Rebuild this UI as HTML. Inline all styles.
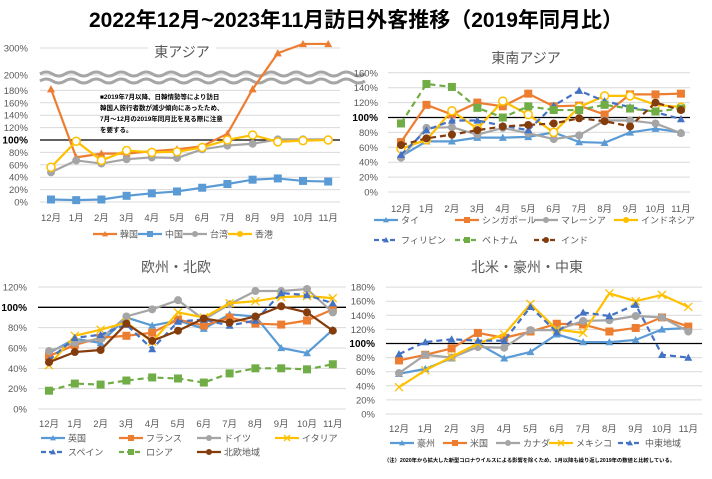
<!DOCTYPE html>
<html><head><meta charset="utf-8">
<style>
body{margin:0;background:#fff;width:712px;height:474px;overflow:hidden;font-family:"Liberation Sans","Noto Sans CJK JP",sans-serif}
svg text{font-family:"Liberation Sans","Noto Sans CJK JP",sans-serif}
</style></head><body>
<svg id="s" width="712" height="474" xmlns="http://www.w3.org/2000/svg">
<text x="356" y="27" text-anchor="middle" font-size="21" font-weight="bold" fill="#000">2022年12月~2023年11月訪日外客推移（2019年同月比）</text>
</svg>
<script>
const S=document.getElementById('s');let h='';
const C={o:'#ED7D31',b:'#5B9BD5',g:'#A5A5A5',y:'#FFC000',db:'#4472C4',gr:'#70AD47',br:'#843C0C'};
const M=['12月','1月','2月','3月','4月','5月','6月','7月','8月','9月','10月','11月'];
function mk(t,x,y,c,s){s=s||4;
 if(t=='tri')return `<polygon points="${x},${y-s} ${x-s},${y+s*0.8} ${x+s},${y+s*0.8}" fill="${c}"/>`;
 if(t=='sq')return `<rect x="${x-s}" y="${y-s}" width="${2*s}" height="${2*s}" fill="${c}"/>`;
 if(t=='ci')return `<circle cx="${x}" cy="${y}" r="${s}" fill="${c}"/>`;
 if(t=='ring')return `<circle cx="${x}" cy="${y}" r="${s}" fill="#fff" stroke="${c}" stroke-width="1.5"/>`;
 if(t=='x')return `<path d="M${x-s},${y-s}L${x+s},${y+s}M${x-s},${y+s}L${x+s},${y-s}" stroke="${c}" stroke-width="1.3"/>`;
 return '';}
function series(xs,step,fy,d,c,m,dash,w){let p=d.map((v,i)=>[xs+i*step,fy(v)]);
 h+=`<polyline points="${p.map(q=>q.join(',')).join(' ')}" fill="none" stroke="${c}" stroke-width="${w||2.2}" ${dash?'stroke-dasharray="6,4"':''}/>`;
 p.forEach(q=>h+=mk(m,q[0],q[1],c));}
function axis(x0,x1,xs,step,fy,max,ly,labx,title,tx,ty){
 for(let v=0;v<=max;v+=20){let y=fy(v);
  h+=`<line x1="${x0}" x2="${x1}" y1="${y}" y2="${y}" stroke="${v==100?'#000':'#d9d9d9'}" stroke-width="${v==100?1.3:1}"/>`;
  h+=`<text x="${labx}" y="${y+3.5}" text-anchor="end" font-size="${v==100?10:9.5}" ${v==100?'font-weight="bold" fill="#000"':'fill="#595959"'}>${v}%</text>`;}
 M.forEach((m,i)=>h+=`<text x="${xs+i*step}" y="${ly}" text-anchor="middle" font-size="9.5" fill="#595959">${m}</text>`);
 h+=`<text x="${tx}" y="${ty}" text-anchor="middle" font-size="14" fill="#595959">${title}</text>`;}
function leg(x,y,c,m,dash,lab){h+=`<line x1="${x}" x2="${x+24}" y1="${y}" y2="${y}" stroke="${c}" stroke-width="2.2" ${dash?'stroke-dasharray="5,3"':''}/>`+mk(m,x+12,y,c,3)+`<text x="${x+27}" y="${y+3.5}" font-size="9" fill="#595959">${lab}</text>`;}

// Panel 1
let f1=v=>v<=190?202-v*0.62:75-(v-200)*0.27;
for(let v=0;v<=180;v+=20){let y=f1(v);h+=`<line x1="40" x2="340" y1="${y}" y2="${y}" stroke="${v==100?'#000':'#d9d9d9'}" stroke-width="${v==100?1.3:1}"/>`;
 h+=`<text x="28" y="${y+3.5}" text-anchor="end" font-size="${v==100?10:9.5}" ${v==100?'font-weight="bold" fill="#000"':'fill="#595959"'}>${v}%</text>`;}
[[200,75],[300,48]].forEach(a=>{h+=`<line x1="40" x2="340" y1="${a[1]}" y2="${a[1]}" stroke="#d9d9d9"/><text x="28" y="${a[1]+3.5}" text-anchor="end" font-size="9.5" fill="#595959">${a[0]}%</text>`;});
let wv=(y)=>{let d=`M40,${y}`;for(let x=40;x<343;x+=25)d+=` q6.25,-4 12.5,0 q6.25,4 12.5,0`;return d;};
h+=`<path d="${wv(74)}" fill="none" stroke="#a6a6a6" stroke-width="3"/><path d="${wv(81)}" fill="none" stroke="#a6a6a6" stroke-width="3"/>`;
h+=`<rect x="148" y="42" width="68" height="20" fill="#fff"/><text x="182" y="57" text-anchor="middle" font-size="14" fill="#595959">東アジア</text>`;
M.forEach((m,i)=>h+=`<text x="${51+i*25.2}" y="221" text-anchor="middle" font-size="9.5" fill="#595959">${m}</text>`);
h+=`<g font-size="6.5" font-weight="bold" fill="#000"><text x="100" y="99">■2019年7月以降、日韓情勢等により訪日</text><text x="100" y="110">韓国人旅行者数が減少傾向にあったため、</text><text x="100" y="121">7月～12月の2019年同月比を見る際に注意</text><text x="100" y="132">を要する。</text></g>`;
series(51,25.2,f1,[182,72,78,78,82,85,90,110,182,281,315,315],C.o,'tri');
series(51,25.2,f1,[4,3,4,10,14,17,23,29,36,38,34,33],C.b,'sq');
series(51,25.2,f1,[48,67,62,69,72,71,85,91,94,101,101,101],C.g,'ci');
series(51,25.2,f1,[56,98,67,83,80,81,88,100,108,97,99,100],C.y,'ring');
leg(93,234,C.o,'tri',0,'韓国');leg(138,234,C.b,'sq',0,'中国');leg(183,234,C.g,'ci',0,'台湾');leg(228,234,C.y,'ci',0,'香港');

// Panel 2
let f2=v=>192-v*0.745;
axis(388,690,401,25.45,f2,160,212,378,'東南アジア',526,63);
series(401,25.45,f2,[48,68,68,73,73,74,80,67,66,80,85,80],C.b,'tri');
series(401,25.45,f2,[67,117,104,120,115,132,115,116,104,131,131,132],C.o,'sq');
series(401,25.45,f2,[46,86,87,77,86,79,71,76,96,96,92,79],C.g,'ci');
series(401,25.45,f2,[58,70,109,85,122,104,80,114,129,129,117,114],C.y,'ring');
series(401,25.45,f2,[50,83,96,96,89,83,116,136,122,114,107,98],C.db,'tri',1);
series(401,25.45,f2,[92,145,141,113,100,115,110,110,117,112,108,112],C.gr,'sq',1);
series(401,25.45,f2,[63,72,77,83,88,90,92,99,95,88,120,110],C.br,'ci',1);
leg(374,220,C.b,'tri',0,'タイ');leg(455,220,C.o,'sq',0,'シンガポール');leg(534,220,C.g,'ci',0,'マレーシア');leg(614,220,C.y,'ci',0,'インドネシア');
leg(374,240,C.db,'tri',1,'フィリピン');leg(455,240,C.gr,'sq',1,'ベトナム');leg(534,240,C.br,'ci',1,'インド');

// Panel 3
let f3=v=>409-v*1.017;
axis(38,346,49,25.8,f3,120,427,27,'欧州・北欧',176,272);
series(49,25.8,f3,[55,69,65,90,82,87,79,93,91,60,55,78],C.b,'tri');
series(49,25.8,f3,[52,63,70,72,75,88,82,90,84,83,87,98],C.o,'sq');
series(49,25.8,f3,[57,65,69,91,98,107,88,103,116,116,118,95],C.g,'ci');
series(49,25.8,f3,[43,72,78,85,66,95,90,104,106,110,111,109],C.y,'x');
series(49,25.8,f3,[48,70,73,83,59,86,88,82,87,114,112,104],C.db,'tri',1);
series(49,25.8,f3,[18,25,24,28,31,30,26,35,40,40,39,44],C.gr,'sq',1);
series(49,25.8,f3,[46,56,58,84,67,77,89,85,91,101,95,77],C.br,'ci');
leg(41,438,C.b,'tri',0,'英国');leg(119,438,C.o,'sq',0,'フランス');leg(197,438,C.g,'ci',0,'ドイツ');leg(275,438,C.y,'x',0,'イタリア');
leg(41,452,C.db,'tri',1,'スペイン');leg(119,452,C.gr,'sq',1,'ロシア');leg(197,452,C.br,'ci',0,'北欧地域');

// Panel 4
let f4=v=>414-v*0.705;
axis(386,702,399,26.3,f4,180,432,375,'北米・豪州・中東',527,272);
series(399,26.3,f4,[57,64,79,100,79,88,113,102,102,105,120,122],C.b,'tri');
series(399,26.3,f4,[76,84,93,115,108,117,128,127,117,122,137,124],C.o,'sq');
series(399,26.3,f4,[58,84,80,95,94,119,119,132,133,139,137,117],C.g,'ci');
series(399,26.3,f4,[38,62,81,100,113,156,120,115,171,160,169,152],C.y,'x');
series(399,26.3,f4,[85,102,106,104,104,152,116,144,139,155,84,80],C.db,'tri',1);
leg(390,443,C.b,'tri',0,'豪州');leg(443,443,C.o,'sq',0,'米国');leg(496,443,C.g,'ci',0,'カナダ');leg(549,443,C.y,'x',0,'メキシコ');leg(618,443,C.db,'tri',1,'中東地域');
h+=`<text x="384" y="462" font-size="5.3" font-weight="bold" fill="#000">（注）2020年から拡大した新型コロナウイルスによる影響を除くため、1月以降も繰り返し2019年の数値と比較している。</text>`;
S.insertAdjacentHTML('beforeend',h);
</script>
</body></html>
